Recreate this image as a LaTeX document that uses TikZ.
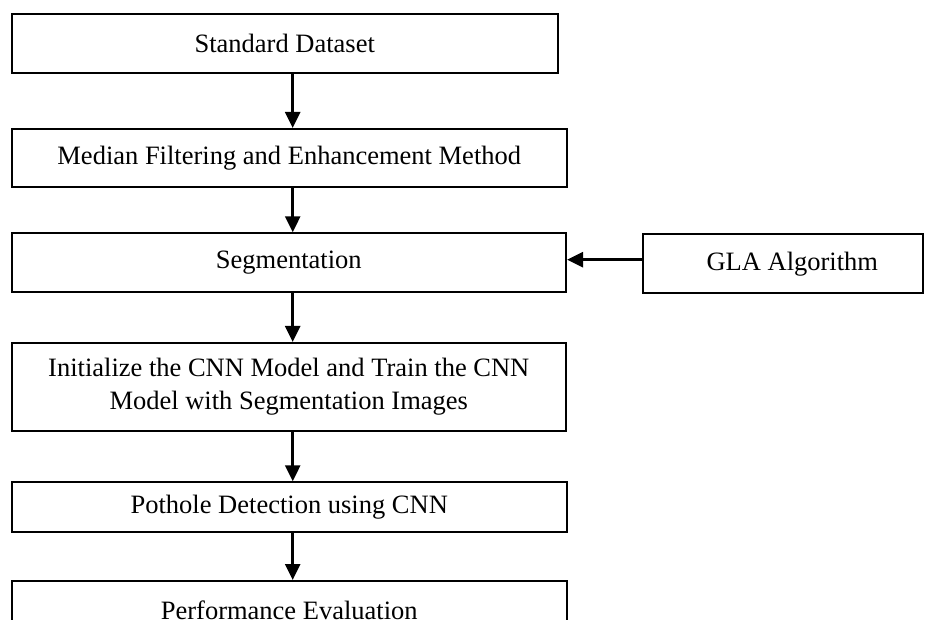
\documentclass[tikz,border=0pt]{standalone}
\usepackage{fontspec}
\setmainfont{Liberation Serif}
\usetikzlibrary{arrows.meta}

\begin{document}
\begin{tikzpicture}[x=1pt, y=1pt,
    stage/.style={draw, line width=2pt, inner sep=0pt, align=center,
      font=\fontsize{26.5}{33}\selectfont},
    flow/.style={line width=2.7pt, -{Triangle[width=15pt,length=16pt]}}]

  % --- frame of the page ---
  \useasboundingbox (0,0) rectangle (927,-620);
  \clip (0,0) rectangle (927,-620);

  % --- main column of stages ---
  \node[stage, minimum width=546.5, minimum height=58.7] (data) at (284.75,-43.35) {Standard Dataset};
  \node[stage, minimum width=555.5, minimum height=58] (filter) at (289.25,-158) {Median Filtering and Enhancement Method};
  \node[stage, minimum width=554.5, minimum height=59] (seg) at (288.75,-262.8) {Segmentation};
  \node[stage, minimum width=554.5, minimum height=88] (cnn) at (288.75,-387)
      {Initialize the CNN Model and Train the CNN\\Model with Segmentation Images};
  \node[stage, minimum width=555.5, minimum height=50] (detect) at (289.25,-507.3) {Pothole Detection using CNN};
  \node[stage, minimum width=555.5, minimum height=59] (eval) at (289.25,-610.5) {Performance Evaluation};

  % --- side input ---
  \node[stage, minimum width=279.4, minimum height=59.3] (gla) at (782.8,-263.7) {\hspace{19pt}GLA Algorithm};

  % --- arrows down the column ---
  \coordinate (spine) at (292.7,0);
  \draw[flow] (data.south -| spine) -- (filter.north -| spine);
  \draw[flow] (filter.south -| spine) -- (seg.north -| spine);
  \draw[flow] (seg.south -| spine) -- (cnn.north -| spine);
  \draw[flow] (cnn.south -| spine) -- (detect.north -| spine);
  \draw[flow] (detect.south -| spine) -- (eval.north -| spine);

  % GLA feeds the segmentation
  \draw[flow] ([yshift=4pt]gla.west) -- ([yshift=4pt]gla.west -| seg.east);

\end{tikzpicture}
\end{document}
